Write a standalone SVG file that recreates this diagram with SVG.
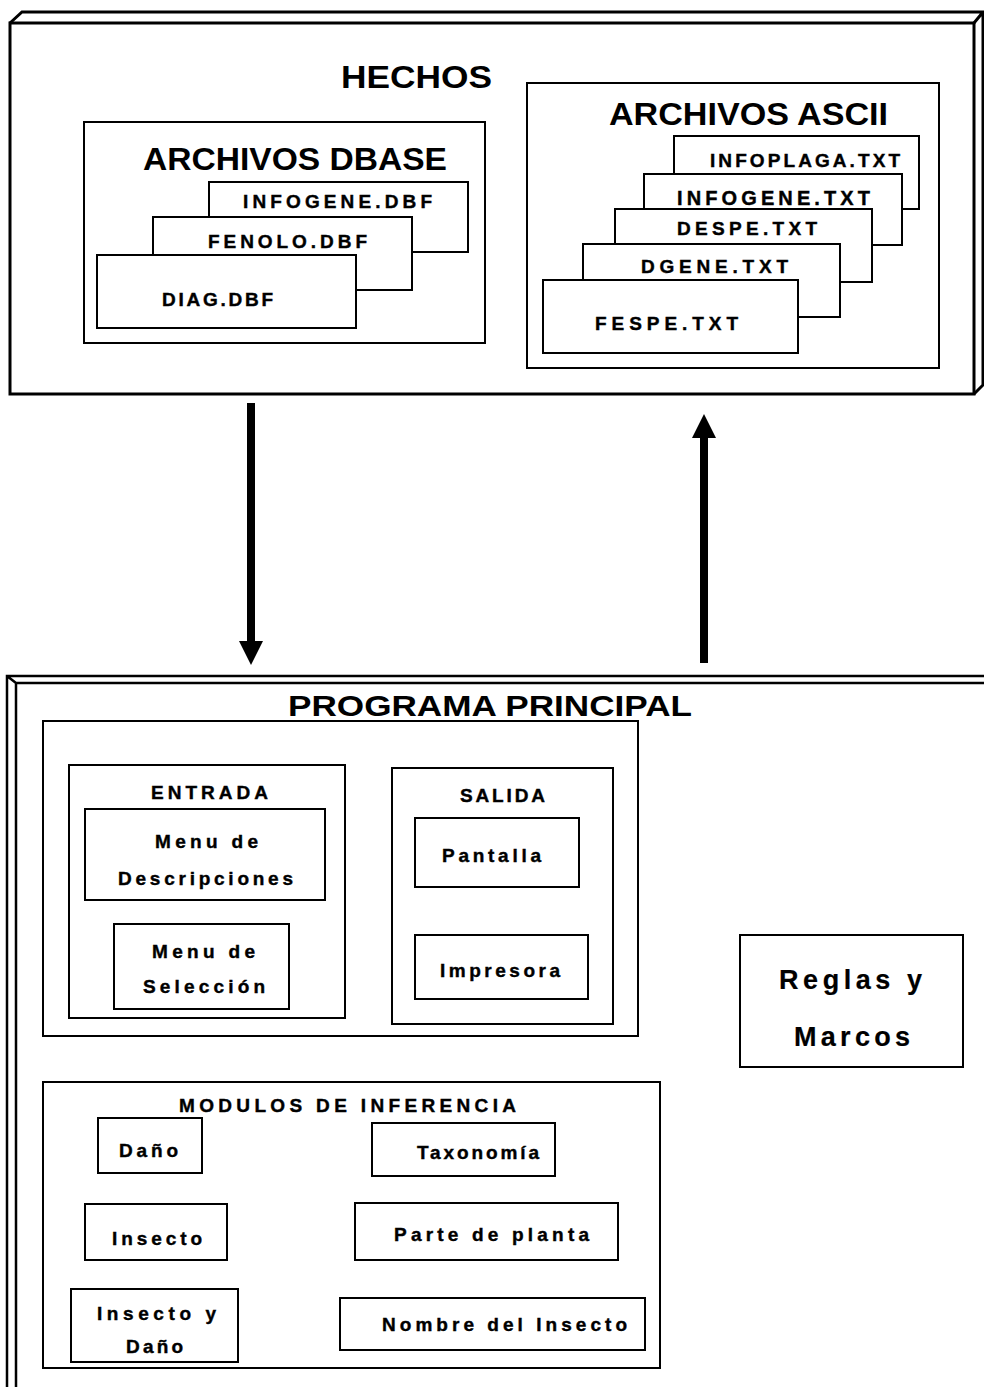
<svg xmlns="http://www.w3.org/2000/svg" width="984" height="1387" viewBox="0 0 984 1387">
<style>
.bx{fill:#fff;stroke:#000;stroke-width:2}
.fr{fill:none;stroke:#000;stroke-width:3}
.ln{fill:none;stroke:#000;stroke-width:2.5}
text{font-family:"Liberation Sans",Arial,sans-serif;font-weight:bold;fill:#000}
.big{font-size:32px}
.sm{font-size:19px;stroke:#000;stroke-width:0.4}
.rg{font-size:27px;stroke:#000;stroke-width:0.2}
.ar{fill:none;stroke:#000;stroke-width:8}
</style>
<defs>
<marker id="ah" markerUnits="userSpaceOnUse" markerWidth="24" markerHeight="24" viewBox="0 0 24 24" refX="0" refY="12" orient="auto">
<path d="M0,0 L24,12 L0,24 Z" fill="#000"/>
</marker>
</defs>
<rect width="984" height="1387" fill="#fff"/>

<g id="hechos">
<path class="fr" d="M10,23 L22,12 L983,12 L983,385 L974,394 M974,23 L983,12"/>
<rect class="fr" x="10" y="23" width="964" height="371" fill="#fff"/>
<text class="big" x="341" y="88" textLength="151" lengthAdjust="spacingAndGlyphs">HECHOS</text>
</g>

<g id="dbase">
<rect class="bx" x="84" y="122" width="401" height="221"/>
<text class="big" x="143" y="170" textLength="304" lengthAdjust="spacingAndGlyphs">ARCHIVOS DBASE</text>
</g>
<g id="infogene-dbf">
<rect class="bx" x="209" y="182" width="259" height="70"/>
<text class="sm" x="243" y="208" textLength="189" lengthAdjust="spacing">INFOGENE.DBF</text>
</g>
<g id="fenolo-dbf">
<rect class="bx" x="153" y="217" width="259" height="73"/>
<text class="sm" x="208" y="248" textLength="159" lengthAdjust="spacing">FENOLO.DBF</text>
</g>
<g id="diag-dbf">
<rect class="bx" x="97" y="255" width="259" height="73"/>
<text class="sm" x="162" y="306" textLength="111" lengthAdjust="spacing">DIAG.DBF</text>
</g>

<g id="ascii">
<rect class="bx" x="527" y="83" width="412" height="285"/>
<text class="big" x="609" y="125" textLength="279" lengthAdjust="spacingAndGlyphs">ARCHIVOS ASCII</text>
</g>
<g id="infoplaga-txt">
<rect class="bx" x="674" y="136" width="245" height="73"/>
<text class="sm" x="710" y="167" textLength="190" lengthAdjust="spacing">INFOPLAGA.TXT</text>
</g>
<g id="infogene-txt">
<rect class="bx" x="644" y="174" width="258" height="71"/>
<text class="sm" x="677" y="205" textLength="193" lengthAdjust="spacing" style="font-size:20px">INFOGENE.TXT</text>
</g>
<g id="despe-txt">
<rect class="bx" x="615" y="209" width="257" height="73"/>
<text class="sm" x="677" y="235" textLength="140" lengthAdjust="spacing">DESPE.TXT</text>
</g>
<g id="dgene-txt">
<rect class="bx" x="583" y="244" width="257" height="73"/>
<text class="sm" x="641" y="273" textLength="147" lengthAdjust="spacing">DGENE.TXT</text>
</g>
<g id="fespe-txt">
<rect class="bx" x="543" y="280" width="255" height="73"/>
<text class="sm" x="595" y="330" textLength="143" lengthAdjust="spacing">FESPE.TXT</text>
</g>

<g id="connectors">
<path class="ar" d="M251,403 L251,641" marker-end="url(#ah)"/>
<path class="ar" d="M704,663 L704,438" marker-end="url(#ah)"/>
</g>

<g id="programa">
<path class="ln" d="M984,676 L7,676 L7,1387 M984,683 L16,683 L16,1387 M7,676 L16,683"/>
<text class="big" x="288" y="716" textLength="404" lengthAdjust="spacingAndGlyphs" style="font-size:30px">PROGRAMA PRINCIPAL</text>
</g>

<g id="es">
<rect class="bx" x="43" y="721" width="595" height="315"/>
</g>
<g id="entrada">
<rect class="bx" x="69" y="765" width="276" height="253"/>
<text class="sm" x="151" y="799" textLength="117" lengthAdjust="spacing">ENTRADA</text>
</g>
<g id="menu-desc">
<rect class="bx" x="85" y="809" width="240" height="91"/>
<text class="sm" x="155" y="848" textLength="103" lengthAdjust="spacing">Menu de</text>
<text class="sm" x="118" y="885" textLength="175" lengthAdjust="spacing">Descripciones</text>
</g>
<g id="menu-sel">
<rect class="bx" x="114" y="924" width="175" height="85"/>
<text class="sm" x="152" y="958" textLength="103" lengthAdjust="spacing">Menu de</text>
<text class="sm" x="143" y="993" textLength="122" lengthAdjust="spacing">Selección</text>
</g>
<g id="salida">
<rect class="bx" x="392" y="768" width="221" height="256"/>
<text class="sm" x="460" y="802" textLength="85" lengthAdjust="spacing">SALIDA</text>
</g>
<g id="pantalla">
<rect class="bx" x="415" y="818" width="164" height="69"/>
<text class="sm" x="442" y="862" textLength="99" lengthAdjust="spacing">Pantalla</text>
</g>
<g id="impresora">
<rect class="bx" x="415" y="935" width="173" height="64"/>
<text class="sm" x="440" y="977" textLength="120" lengthAdjust="spacing">Impresora</text>
</g>

<g id="reglas">
<rect class="bx" x="740" y="935" width="223" height="132"/>
<text class="rg" x="779" y="989" textLength="143" lengthAdjust="spacing">Reglas y</text>
<text class="rg" x="794" y="1046" textLength="116" lengthAdjust="spacing">Marcos</text>
</g>

<g id="modulos">
<rect class="bx" x="43" y="1082" width="617" height="286"/>
<text class="sm" x="179" y="1112" textLength="337" lengthAdjust="spacing">MODULOS DE INFERENCIA</text>
</g>
<g id="dano">
<rect class="bx" x="98" y="1118" width="104" height="55"/>
<text class="sm" x="119" y="1157" textLength="59" lengthAdjust="spacing">Daño</text>
</g>
<g id="taxonomia">
<rect class="bx" x="372" y="1123" width="183" height="53"/>
<text class="sm" x="417" y="1159" textLength="122" lengthAdjust="spacing">Taxonomía</text>
</g>
<g id="insecto">
<rect class="bx" x="85" y="1204" width="142" height="56"/>
<text class="sm" x="112" y="1245" textLength="90" lengthAdjust="spacing">Insecto</text>
</g>
<g id="parte">
<rect class="bx" x="355" y="1203" width="263" height="57"/>
<text class="sm" x="394" y="1241" textLength="195" lengthAdjust="spacing">Parte de planta</text>
</g>
<g id="insecto-dano">
<rect class="bx" x="71" y="1289" width="167" height="73"/>
<text class="sm" x="97" y="1320" textLength="119" lengthAdjust="spacing">Insecto y</text>
<text class="sm" x="126" y="1353" textLength="57" lengthAdjust="spacing">Daño</text>
</g>
<g id="nombre">
<rect class="bx" x="340" y="1298" width="305" height="52"/>
<text class="sm" x="382" y="1331" textLength="245" lengthAdjust="spacing">Nombre del Insecto</text>
</g>
</svg>
